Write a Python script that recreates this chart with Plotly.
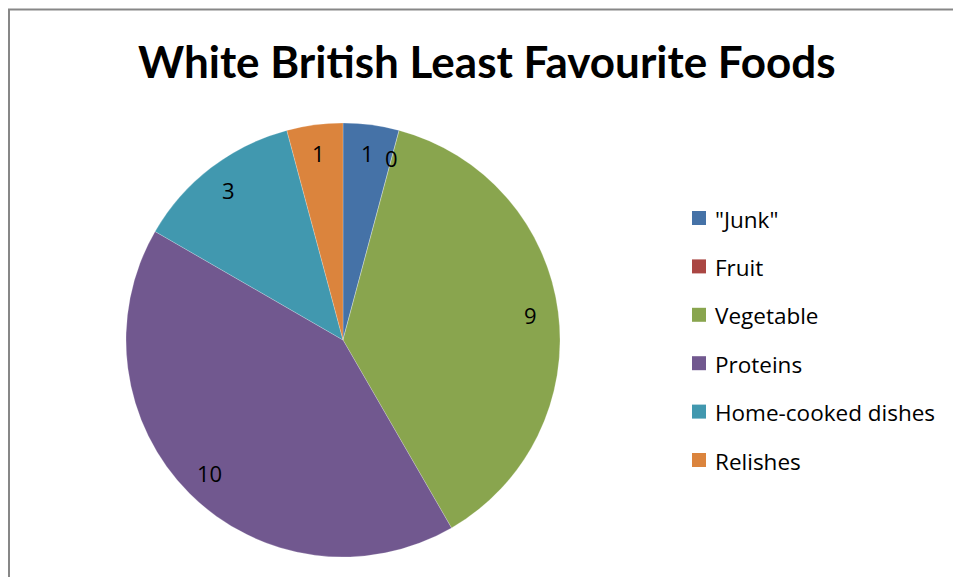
import math
import plotly.graph_objects as go

# Survey responses: least favourite food group
categories = ['"Junk"', "Fruit", "Vegetable", "Proteins", "Home-cooked dishes", "Relishes"]
counts = [1, 0, 9, 10, 3, 1]
colors = ["#4572A7", "#AA4643", "#89A54E", "#71588F", "#4198AF", "#DB843D"]

W, H = 953, 577
TITLE_FONT = "Lato"
TEXT_FONT = "Open Sans"

# pie geometry in pixels
cx, cy, R = 343, 340, 217

fig = go.Figure(
    go.Pie(
        labels=categories,
        values=counts,
        sort=False,
        direction="clockwise",
        rotation=0,
        marker=dict(colors=colors, line=dict(color="rgba(255,255,255,0.35)", width=0.6)),
        textinfo="none",
        hoverinfo="label+value+percent",
        showlegend=False,
        domain=dict(x=[(cx - R) / W, (cx + R) / W], y=[1 - (cy + R) / H, 1 - (cy - R) / H]),
    )
)

annotations = []

# value labels, placed at each slice's mid-angle
total = sum(counts)
acc = 0
for v in counts:
    mid = (acc + v / 2) / total * 2 * math.pi
    acc += v
    r = 0.87 * R
    px = cx + r * math.sin(mid)
    py = cy - r * math.cos(mid)
    annotations.append(dict(
        x=px / W, y=1 - py / H, xref="paper", yref="paper",
        text=str(v), showarrow=False, xanchor="center", yanchor="middle",
        font=dict(family=TEXT_FONT, size=22, color="#000000"),
    ))

# title
annotations.append(dict(
    x=487 / W, y=1 - 61 / H, xref="paper", yref="paper",
    text="<b>White British Least Favourite Foods</b>", showarrow=False,
    xanchor="center", yanchor="middle",
    font=dict(family=TITLE_FONT, size=44, color="#000000"),
))

# legend
shapes = []
leg_x, leg_y0, leg_step, sq = 692, 218, 48.4, 14
for i, (name, col) in enumerate(zip(categories, colors)):
    yc = leg_y0 + i * leg_step
    shapes.append(dict(
        type="rect", xref="paper", yref="paper",
        x0=leg_x / W, x1=(leg_x + sq) / W,
        y0=1 - (yc + sq / 2) / H, y1=1 - (yc - sq / 2) / H,
        fillcolor=col, line=dict(width=0),
    ))
    annotations.append(dict(
        x=(leg_x + sq + 7) / W, y=1 - (yc + 1) / H, xref="paper", yref="paper",
        text=name, showarrow=False, xanchor="left", yanchor="middle",
        font=dict(family=TEXT_FONT, size=22.5, color="#000000"),
    ))

# chart area border
shapes.append(dict(
    type="rect", xref="paper", yref="paper",
    x0=9 / W, x1=1.05, y0=-0.05, y1=1 - 9.5 / H,
    line=dict(color="#878787", width=2), fillcolor="rgba(0,0,0,0)",
))

fig.update_layout(
    width=W, height=H, autosize=False,
    margin=dict(l=0, r=0, t=0, b=0),
    paper_bgcolor="#ffffff", plot_bgcolor="#ffffff",
    annotations=annotations, shapes=shapes,
    showlegend=False,
)

fig.write_html("out.html", config={"displayModeBar": False})
